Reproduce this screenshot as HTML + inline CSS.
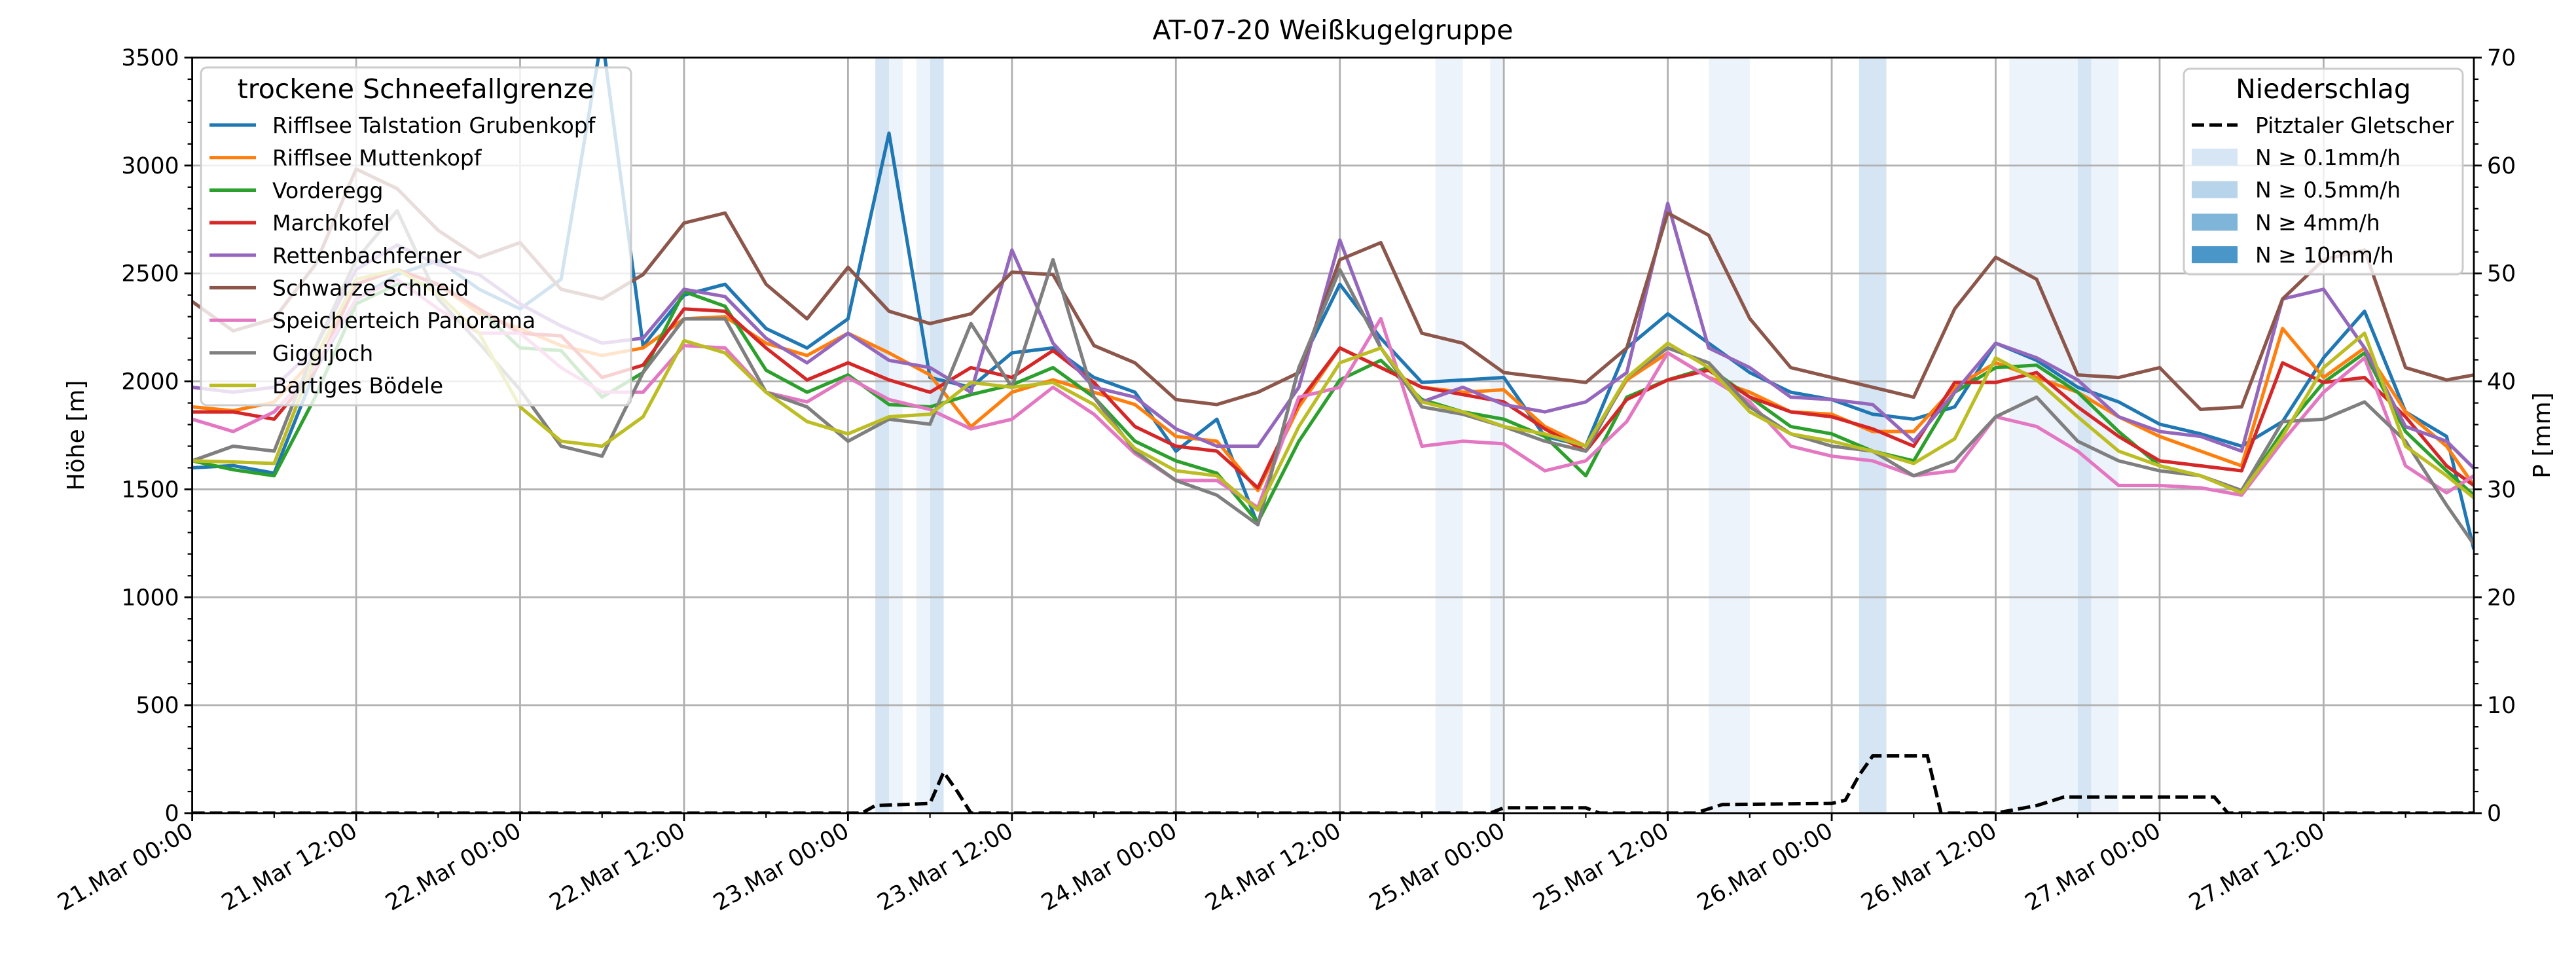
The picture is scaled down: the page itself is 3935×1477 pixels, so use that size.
<!DOCTYPE html>
<html><head><meta charset="utf-8"><style>
html,body{margin:0;padding:0;background:#fff}
svg{display:block;font-family:"DejaVu Sans","Liberation Sans",sans-serif}
</style></head><body>
<svg id="chart" xmlns="http://www.w3.org/2000/svg" width="3935" height="1477" viewBox="0 0 3935 1477">
<defs><clipPath id="plotclip"><rect x="293.6" y="88" width="3485.4" height="1154"/></clipPath></defs>
<rect x="0" y="0" width="3935" height="1477" fill="#fff"/>
<g id="bands" clip-path="url(#plotclip)"></g>
<g id="grid"></g>
<g id="lines" clip-path="url(#plotclip)"></g>
<g id="axes"></g>
<text x="2036" y="60" font-size="41" text-anchor="middle">AT-07-20 Weißkugelgruppe</text>
<text transform="translate(128,665) rotate(-90)" font-size="36" text-anchor="middle">Höhe [m]</text>
<text transform="translate(3895,665) rotate(-90)" font-size="36" text-anchor="middle">P [mm]</text>
<g id="legend1"></g>
<g id="legend2"></g>
</svg>
<script>
const hours=[0,3,6,9,12,15,18,21,24,27,30,33,36,39,42,45,48,51,54,57,60,63,66,69,72,75,78,81,84,87,90,93,96,99,102,105,108,111,114,117,120,123,126,129,132,135,138,141,144,147,150,153,156,159,162,165,167];
const stationNames=["Rifflsee Talstation Grubenkopf","Rifflsee Muttenkopf","Vorderegg","Marchkofel","Rettenbachferner","Schwarze Schneid","Speicherteich Panorama","Giggijoch","Bartiges Bödele"];
const sBlue=[1600,1610,1575,2050,2380,2495,2560,2427,2336,2473,3600,2165,2400,2450,2245,2155,2290,3150,2018,1973,2132,2155,2018,1950,1677,1825,1336,2064,2450,2200,1995,2007,2018,1745,1700,2155,2313,2177,2041,1950,1916,1848,1825,1882,2177,2098,1973,1905,1802,1757,1700,1814,2109,2325,1859,1745,1222];
const sOrange=[1882,1864,1904,2109,2450,2518,2450,2314,2245,2166,2120,2155,2290,2300,2177,2120,2223,2132,2030,1790,1950,2007,1950,1893,1745,1723,1495,1882,2155,2064,1973,1950,1961,1791,1700,2007,2132,2018,1950,1859,1848,1768,1768,1973,2086,2018,1950,1836,1745,1677,1609,2245,2018,2155,1859,1700,1518];
const sGreen=[1632,1591,1563,1927,2359,2450,2450,2336,2155,2143,1927,2041,2416,2348,2052,1950,2030,1893,1882,1939,1984,2064,1927,1723,1632,1575,1348,1723,2007,2098,1916,1859,1825,1745,1563,1927,2007,2064,1927,1791,1757,1677,1632,1950,2064,2075,1950,1768,1609,1563,1484,1768,1995,2132,1768,1586,1473];
const sRed=[1859,1859,1825,2050,2450,2518,2450,2336,2223,2211,2018,2075,2336,2325,2155,2007,2086,2007,1950,2064,2018,2143,1995,1791,1700,1677,1507,1905,2155,2064,1973,1939,1905,1780,1677,1916,2007,2052,1927,1859,1836,1780,1700,1995,1995,2041,1882,1745,1632,1609,1586,2086,1995,2018,1836,1609,1518];
const sPurple=[1973,1950,1973,2155,2518,2632,2541,2495,2359,2257,2177,2200,2427,2393,2200,2086,2223,2098,2064,1950,2609,2177,1973,1927,1780,1700,1700,1973,2655,2155,1905,1973,1893,1859,1905,2041,2825,2155,2064,1927,1916,1893,1723,1950,2177,2109,2007,1836,1768,1745,1677,2382,2427,2155,1791,1723,1598];
const sBrown=[2370,2234,2290,2540,2984,2893,2700,2575,2643,2427,2382,2495,2734,2780,2450,2290,2529,2325,2268,2313,2506,2495,2166,2086,1916,1893,1950,2041,2564,2643,2223,2177,2041,2018,1995,2155,2780,2677,2291,2064,2018,1973,1927,2336,2575,2473,2030,2018,2064,1870,1882,2382,2564,2609,2064,2007,2030];
const sPink=[1825,1768,1859,2064,2382,2473,2336,2223,2223,2064,1950,1950,2166,2155,1950,1905,2018,1916,1870,1780,1825,1973,1848,1666,1541,1541,1416,1927,1973,2291,1700,1723,1711,1586,1632,1814,2132,2018,1905,1700,1654,1632,1563,1586,1836,1791,1677,1518,1518,1507,1473,1723,1950,2109,1609,1484,1563];
const sGray=[1632,1700,1677,2155,2564,2791,2382,2177,1961,1700,1654,2041,2290,2290,1950,1882,1723,1825,1802,2268,1973,2564,1927,1677,1541,1473,1336,2064,2518,2155,1882,1848,1791,1723,1677,2018,2155,2086,1882,1757,1700,1677,1563,1632,1836,1927,1723,1632,1586,1563,1495,1814,1825,1905,1723,1427,1245];
const sOlive=[1632,1627,1620,2109,2473,2518,2404,2223,1882,1723,1700,1836,2189,2132,1950,1814,1757,1836,1848,1995,1973,1995,1893,1689,1586,1563,1404,1791,2086,2155,1905,1859,1791,1757,1700,2018,2177,2064,1859,1757,1723,1677,1620,1734,2109,2007,1836,1677,1609,1563,1484,1745,2064,2223,1700,1563,1461];
const precipHours=[0,49,50,54,55,56,57,95,96,102,103,110,112,120,121,122,123,127,128,132,135,137,148,149,167];
const precipVals=[0,0,0.7,0.9,3.8,2,0,0,0.5,0.5,0,0,0.8,0.9,1.2,3.5,5.3,5.3,0,0,0.7,1.5,1.5,0,0];
const bandStart=[50,51,53,54,91,95,111,122,133,138,139];
const bandEnd=[51,52,54,55,93,96,114,124,138,139,141];
const bandLevel=[1,0,0,1,0,0,0,1,0,1,0];
const yTicks=[0,500,1000,1500,2000,2500,3000,3500];
const y2Ticks=[0,10,20,30,40,50,60,70];
const xTickLabels=["21.Mar 00:00","21.Mar 12:00","22.Mar 00:00","22.Mar 12:00","23.Mar 00:00","23.Mar 12:00","24.Mar 00:00","24.Mar 12:00","25.Mar 00:00","25.Mar 12:00","26.Mar 00:00","26.Mar 12:00","27.Mar 00:00","27.Mar 12:00"];
const bandLabels=["N ≥ 0.1mm/h","N ≥ 0.5mm/h","N ≥ 4mm/h","N ≥ 10mm/h"];

const series=[sBlue,sOrange,sGreen,sRed,sPurple,sBrown,sPink,sGray,sOlive];
const colors=["#1f77b4","#ff7f0e","#2ca02c","#d62728","#9467bd","#8c564b","#e377c2","#7f7f7f","#bcbd22"];
const bandColors=["#edf3fb","#d5e5f3","#7fb5d8","#4a96c8"];
const X0=293.6,X1=3779,Y0=1242,Y1=88,HMAX=167;
const NS="http://www.w3.org/2000/svg";
function x(h){return X0+h/HMAX*(X1-X0);}
function yL(v){return Y0-v/3500*(Y0-Y1);}
function yR(v){return Y0-v/70*(Y0-Y1);}
function mk(tag,attrs,parent){const e=document.createElementNS(NS,tag);for(const k in attrs)e.setAttribute(k,attrs[k]);parent.appendChild(e);return e;}
const gB=document.getElementById('bands'),gG=document.getElementById('grid'),gL=document.getElementById('lines'),gA=document.getElementById('axes');

bandStart.forEach((s,i)=>{
  const r=mk('rect',{x:x(s),y:Y1,width:x(bandEnd[i])-x(s),height:Y0-Y1,fill:bandColors[bandLevel[i]]},gB);
  
  
});
xTickLabels.forEach((t,i)=>{
  const gx=x(i*12);
  const l=mk('line',{x1:gx,x2:gx,y1:Y1,y2:Y0,stroke:'#b0b0b0','stroke-width':2.8},gG);
  
  
});
yTicks.forEach(v=>{
  const l=mk('line',{x1:X0,x2:X1,y1:yL(v),y2:yL(v),stroke:'#b0b0b0','stroke-width':2.8},gG);
  
  
});
series.forEach((s,i)=>{
  const d=s.map((v,j)=>(j?'L':'M')+x(hours[j]).toFixed(1)+','+yL(v).toFixed(1)).join('');
  const p=mk('path',{d:d,fill:'none',stroke:colors[i],'stroke-width':5.2,'stroke-linejoin':'round'},gL);
  
  
});
const pd=precipVals.map((v,j)=>(j?'L':'M')+x(precipHours[j]).toFixed(1)+','+yR(v).toFixed(1)).join('');
const pp=mk('path',{d:pd,fill:'none',stroke:'#000','stroke-width':5.2,'stroke-dasharray':'19 8'},gL);


const fr=mk('rect',{x:X0,y:Y1,width:X1-X0,height:Y0-Y1,fill:'none',stroke:'#000','stroke-width':2.8},gA);


yTicks.forEach(v=>{
  mk('line',{x1:X0-12,x2:X0,y1:yL(v),y2:yL(v),stroke:'#000','stroke-width':2.8},gA);
  const t=mk('text',{x:X0-20,y:yL(v)+12,'font-size':34.7,'text-anchor':'end'},gA);
  t.textContent=v;
  
  
});
for(let v=100;v<3500;v+=100){if(v%500)mk('line',{x1:X0-7,x2:X0,y1:yL(v),y2:yL(v),stroke:'#000','stroke-width':2.2},gA);}
y2Ticks.forEach(v=>{
  mk('line',{x1:X1,x2:X1+12,y1:yR(v),y2:yR(v),stroke:'#000','stroke-width':2.8},gA);
  const t=mk('text',{x:X1+20,y:yR(v)+12,'font-size':34.7,'text-anchor':'start'},gA);
  t.textContent=v;
  
  
});
for(let v=2;v<70;v+=2){if(v%10)mk('line',{x1:X1,x2:X1+7,y1:yR(v),y2:yR(v),stroke:'#000','stroke-width':2.2},gA);}
xTickLabels.forEach((lab,i)=>{
  const gx=x(i*12);
  mk('line',{x1:gx,x2:gx,y1:Y0,y2:Y0+12,stroke:'#000','stroke-width':2.8},gA);
  const t=mk('text',{transform:'translate('+(gx+4)+','+(Y0+34)+') rotate(-30)','font-size':34.7,'text-anchor':'end'},gA);
  t.textContent=lab;
  
  
});
for(let h=6;h<HMAX;h+=12){mk('line',{x1:x(h),x2:x(h),y1:Y0,y2:Y0+7,stroke:'#000','stroke-width':2.2},gA);}
const l1=document.getElementById('legend1');
mk('rect',{x:307,y:103,width:657,height:516,rx:9,fill:'rgba(255,255,255,0.8)',stroke:'#cccccc','stroke-width':3},l1);
const lt=mk('text',{x:635,y:150,'font-size':41,'text-anchor':'middle'},l1);lt.textContent='trockene Schneefallgrenze';


stationNames.forEach((n,i)=>{
  const yy=191+i*49.7;
  mk('line',{x1:320,x2:391,y1:yy,y2:yy,stroke:colors[i],'stroke-width':5.2},l1);
  const t=mk('text',{x:416,y:yy+12,'font-size':33},l1);t.textContent=n;
  
  
});
const l2=document.getElementById('legend2');
mk('rect',{x:3336,y:105,width:426,height:314,rx:9,fill:'rgba(255,255,255,0.8)',stroke:'#cccccc','stroke-width':3},l2);
const lt2=mk('text',{x:3549,y:150,'font-size':41,'text-anchor':'middle'},l2);lt2.textContent='Niederschlag';


mk('line',{x1:3348,x2:3418,y1:191,y2:191,stroke:'#000','stroke-width':5.2,'stroke-dasharray':'19 8'},l2);
const tp=mk('text',{x:3445,y:203,'font-size':33},l2);tp.textContent='Pitztaler Gletscher';


bandLabels.forEach((n,i)=>{
  const yy=240+i*49.7;
  mk('rect',{x:3348,y:yy-13,width:70,height:26,fill:['#d6e6f4','#b8d4ea','#7fb5d8','#4a96c8'][i]},l2);
  const t=mk('text',{x:3445,y:yy+12,'font-size':33},l2);t.textContent=n;
  
  
});
</script>
</body></html>
